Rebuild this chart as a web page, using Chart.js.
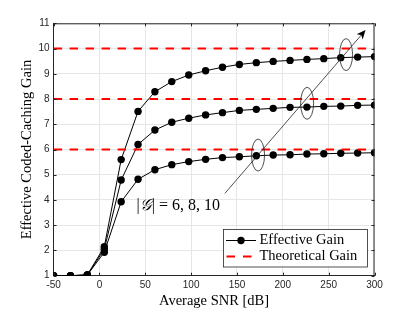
<!DOCTYPE html>
<html>
<head>
<meta charset="utf-8">
<script src="https://cdn.jsdelivr.net/npm/chart.js@4/dist/chart.umd.min.js"></script>
<style>
  html, body { margin: 0; padding: 0; background: #fff; }
  #wrap { width: 415px; height: 310px; }
</style>
</head>
<body>
<div id="wrap"><canvas id="chart" width="415" height="310"></canvas></div>
<script>
// average SNR in dB (x axis)
const snr = [-50, -31.6, -13.2, 5.3, 23.7, 42.1, 60.5, 78.9, 97.4, 115.8,
             134.2, 152.6, 171.1, 189.5, 207.9, 226.3, 244.7, 263.2, 281.6, 300];
// effective coded-caching gain for |G| = 6, 8, 10
const gain6 = [1, 1, 1.03, 1.93, 3.93, 4.82, 5.2, 5.4, 5.52, 5.61,
               5.68, 5.71, 5.75, 5.78, 5.79, 5.82, 5.83, 5.85, 5.86, 5.87];
const gain8 = [1, 1, 1.03, 2.05, 4.79, 6.2, 6.77, 7.08, 7.24, 7.37,
               7.46, 7.55, 7.59, 7.63, 7.67, 7.68, 7.71, 7.72, 7.75, 7.76];
const gain10 = [1, 1, 1.03, 2.15, 5.6, 7.51, 8.29, 8.69, 8.95, 9.12,
                9.26, 9.37, 9.44, 9.49, 9.53, 9.57, 9.6, 9.64, 9.66, 9.68];
// theoretical gains
const theory = [6, 8, 10];
const xRange = [-50, 300];

const serif = '"Liberation Serif", "DejaVu Serif", serif';
const sans = '"Liberation Sans", Arial, sans-serif';
const axisColor = '#262626';

const pts = (ys) => snr.map((x, i) => ({ x, y: ys[i] }));

const effective = [gain6, gain8, gain10].map((g) => ({
  label: 'Effective Gain',
  data: pts(g),
  borderColor: '#000',
  backgroundColor: '#000',
  borderWidth: 1,
  pointRadius: 3.7,
  pointBorderWidth: 0,
  pointBackgroundColor: '#000',
  order: 2,
}));

const theoretical = theory.map((t) => ({
  label: 'Theoretical Gain',
  data: xRange.map((x) => ({ x, y: t })),
  borderColor: '#ff0000',
  borderWidth: 2,
  borderDash: [8.5, 7.5],
  pointRadius: 0,
  order: 1,
}));

// box, inward ticks, annotations and legend
const extras = {
  id: 'extras',
  afterDatasetsDraw(chart) {
    const { ctx, chartArea: a, scales: { x, y } } = chart;
    ctx.save();

    // inward tick marks
    ctx.strokeStyle = axisColor;
    ctx.lineWidth = 1;
    ctx.beginPath();
    for (let v = -50; v <= 300; v += 50) {
      const px = Math.round(x.getPixelForValue(v)) + 0.5;
      ctx.moveTo(px, a.bottom); ctx.lineTo(px, a.bottom - 3);
      ctx.moveTo(px, a.top); ctx.lineTo(px, a.top + 3);
    }
    for (let v = 1; v <= 11; v++) {
      const py = Math.round(y.getPixelForValue(v)) + 0.5;
      ctx.moveTo(a.left, py); ctx.lineTo(a.left + 3, py);
      ctx.moveTo(a.right, py); ctx.lineTo(a.right - 3, py);
    }
    ctx.stroke();
    // top and right sides of the box
    ctx.beginPath();
    ctx.moveTo(a.left, a.top + 0.5);
    ctx.lineTo(a.right - 0.5, a.top + 0.5);
    ctx.lineTo(a.right - 0.5, a.bottom);
    ctx.stroke();

    // ellipses around the curves
    ctx.strokeStyle = '#222';
    ctx.lineWidth = 0.8;
    [[173, 5.78], [226.5, 7.83], [269, 9.76]].forEach(([ex, ey]) => {
      ctx.beginPath();
      ctx.ellipse(x.getPixelForValue(ex), y.getPixelForValue(ey), 6.5, 16, 0, 0, Math.PI * 2);
      ctx.stroke();
    });

    // arrow
    const x0 = x.getPixelForValue(136.8), y0 = y.getPixelForValue(4.26);
    const x1 = x.getPixelForValue(290.2), y1 = y.getPixelForValue(10.73);
    const ang = Math.atan2(y1 - y0, x1 - x0);
    ctx.beginPath();
    ctx.moveTo(x0, y0);
    ctx.lineTo(x1 - 5 * Math.cos(ang), y1 - 5 * Math.sin(ang));
    ctx.stroke();
    ctx.save();
    ctx.translate(x1, y1);
    ctx.rotate(ang);
    ctx.fillStyle = '#000';
    ctx.beginPath();
    ctx.moveTo(0, 0);
    ctx.lineTo(-9, -4);
    ctx.lineTo(-6.5, 0);
    ctx.lineTo(-9, 4);
    ctx.closePath();
    ctx.fill();
    ctx.restore();

    // |G| = 6, 8, 10 label
    ctx.fillStyle = '#000';
    ctx.textBaseline = 'middle';
    ctx.textAlign = 'left';
    let tx = 136.5;
    const ty = 206;
    ctx.font = '16px ' + serif;
    ctx.fillText('|', tx, ty); tx += ctx.measureText('|').width + 0.5;
    ctx.font = 'italic 16px ' + serif;
    ctx.fillText('𝒢', tx, ty); tx += ctx.measureText('𝒢').width + 0.5;
    ctx.font = '16px ' + serif;
    ctx.fillText('| = 6, 8, 10', tx, ty);

    // legend
    const lx = 223.5, ly = 229.5, lw = 144, lh = 37.5;
    ctx.fillStyle = '#fff';
    ctx.fillRect(lx, ly, lw, lh);
    ctx.strokeStyle = axisColor;
    ctx.lineWidth = 0.8;
    ctx.strokeRect(lx, ly, lw, lh);
    ctx.strokeStyle = '#000';
    ctx.lineWidth = 1;
    ctx.beginPath();
    ctx.moveTo(226, 240.5); ctx.lineTo(256, 240.5);
    ctx.stroke();
    ctx.fillStyle = '#000';
    ctx.beginPath();
    ctx.arc(241, 240.5, 3.7, 0, Math.PI * 2);
    ctx.fill();
    ctx.strokeStyle = '#ff0000';
    ctx.lineWidth = 2;
    ctx.setLineDash([8.5, 8]);
    ctx.beginPath();
    ctx.moveTo(226.5, 256.5); ctx.lineTo(252, 256.5);
    ctx.stroke();
    ctx.setLineDash([]);
    ctx.fillStyle = '#000';
    ctx.font = '14.5px ' + serif;
    ctx.fillText('Effective Gain', 259.5, 240);
    ctx.fillText('Theoretical Gain', 259.5, 256.5);

    ctx.restore();
  },
};

new Chart(document.getElementById('chart'), {
  type: 'line',
  data: { datasets: [...effective, ...theoretical] },
  options: {
    responsive: false,
    animation: false,
    layout: { padding: { top: 23.3, right: 40.5, bottom: 0, left: 0 } },
    plugins: {
      legend: { display: false },
      tooltip: { enabled: false },
    },
    scales: {
      x: {
        type: 'linear',
        min: -50,
        max: 300,
        afterFit: (s) => { s.height = 34.3; },
        ticks: { stepSize: 50, padding: 4, font: { family: sans, size: 10 }, color: axisColor },
        grid: { color: '#e6e6e6', drawTicks: false },
        border: { display: true, color: axisColor, width: 1 },
        title: {
          display: true,
          text: 'Average SNR [dB]',
          color: '#000',
          font: { family: serif, size: 14.5 },
          padding: { top: 0, bottom: 0 },
        },
      },
      y: {
        min: 1,
        max: 11,
        afterFit: (s) => { s.width = 53.6; },
        ticks: { stepSize: 1, padding: 4, font: { family: sans, size: 10 }, color: axisColor },
        grid: { color: '#e6e6e6', drawTicks: false },
        border: { display: true, color: axisColor, width: 1 },
        title: {
          display: true,
          text: 'Effective Coded-Caching Gain',
          color: '#000',
          font: { family: serif, size: 14.5 },
          padding: { top: 18, bottom: 0 },
        },
      },
    },
  },
  plugins: [extras],
});
</script>
</body>
</html>
